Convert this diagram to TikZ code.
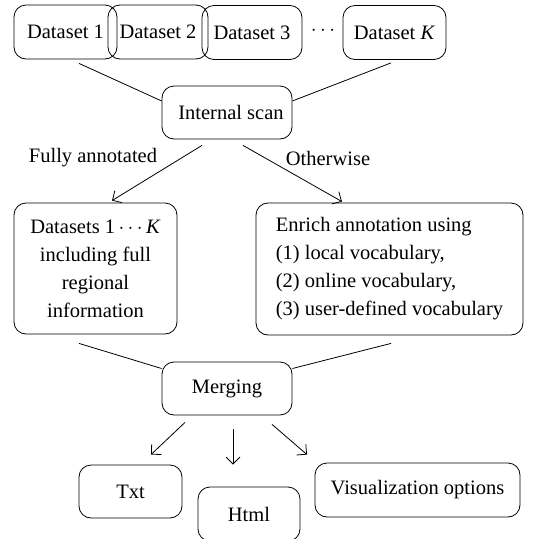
\documentclass[tikz,border=0pt]{standalone}
\usepackage{fontspec}
\setmainfont{Liberation Serif}
\usetikzlibrary{arrows.meta}

\begin{document}
\begin{tikzpicture}[x=1pt, y=-1pt, line width=0.8pt,
    box/.style={draw, rounded corners=12pt, align=center, inner sep=0pt, font=\fontsize{20.5}{28}\selectfont},
    lbl/.style={font=\fontsize{20.5}{28}\selectfont},
    arr/.style={-{Straight Barb[length=7pt,width=14pt]}}]
      \useasboundingbox (0,0) rectangle (534,539);

      \node[box, minimum width=103, minimum height=54] (d1) at (65.5,32) {Dataset 1};
      \node[box, minimum width=100, minimum height=54] (d2) at (158,32) {Dataset 2};
      \node[box, minimum width=100, minimum height=54] (d3) at (252,32.5) {Dataset 3};
      \node[lbl] (dots) at (323,31) {$\cdots$};
      \node[box, minimum width=103, minimum height=54] (dK) at (394.5,32.5) {Dataset \textit{K}};

      \node[box, minimum width=130, minimum height=53] (scan) at (227,112.5) {\hspace{8pt}Internal scan};

      \node[lbl] (full) at (93,158) {Fully annotated};
      \node[lbl] (other) at (328,158) {Otherwise};

      \node[box, minimum width=163, minimum height=131] (fa) at (95.5,268.5)
            {Datasets 1\,$\cdots$\,\textit{K}\\ including full\\ regional\\ information};
      \node[box, minimum width=267, minimum height=132, align=left] (enr) at (389.5,269)
            {Enrich annotation using\\ (1) local vocabulary,\\ (2) online vocabulary,\\ (3) user-defined vocabulary};

      \node[box, minimum width=130, minimum height=53] (merge) at (227,388.5) {Merging};

      \node[box, minimum width=103, minimum height=53] (txt) at (130.5,491.5) {Txt};
      \node[box, minimum width=102, minimum height=54] (html) at (249,514) {Html};
      \node[box, minimum width=205, minimum height=54] (viz) at (417.5,490) {Visualization options};

      \draw ([xshift=13.5pt,yshift=-4pt]d1.south) -- (scan.170);
      \draw ([xshift=-3.5pt,yshift=-3pt]dK.south) -- (scan.10);

      \draw[arr] ([xshift=-25pt,yshift=-6pt]scan.south) -- ([xshift=16.5pt,yshift=2pt]fa.north);
      \draw[arr] ([xshift=16pt,yshift=-6pt]scan.south) -- ([xshift=-47.5pt,yshift=1pt]enr.north);

      \draw ([xshift=-16.5pt,yshift=-9pt]fa.south) -- (merge.163);
      \draw ([xshift=1.5pt,yshift=-8pt]enr.south) -- (merge.17);

      \draw[arr] ([xshift=-42pt,yshift=-7pt]merge.south) -- ([xshift=20.5pt,yshift=10pt]txt.north);
      \draw[arr] ([xshift=6pt,yshift=-14pt]merge.south) -- ([xshift=-16pt,yshift=22pt]html.north);
      \draw[arr] ([xshift=45pt,yshift=-9pt]merge.south) -- ([xshift=-110.5pt,yshift=8pt]viz.north);
\end{tikzpicture}
\end{document}
